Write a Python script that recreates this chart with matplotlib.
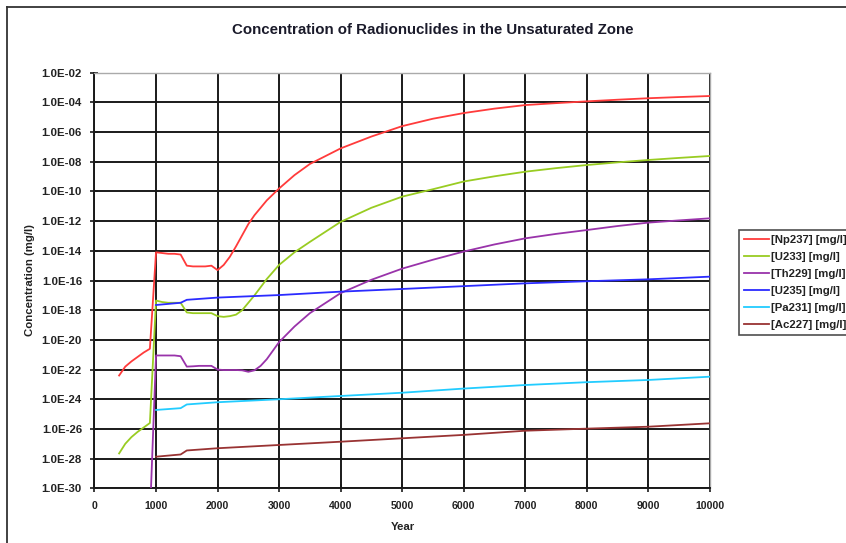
import numpy as np
import matplotlib
matplotlib.use("Agg")
import matplotlib.pyplot as plt
from matplotlib.lines import Line2D
from matplotlib.ticker import FixedLocator, NullLocator, FuncFormatter

plt.rcParams['font.family'] = ['Liberation Sans', 'DejaVu Sans']

# years and log10 of concentration (mg/l) for each nuclide
np237_years = [400, 500, 600, 700, 800, 900, 1000, 1100, 1200, 1300, 1400, 1500, 1600,
               1700, 1800, 1900, 2000, 2100, 2200, 2300, 2400, 2500, 2600, 2800, 3000,
               3250, 3500, 4000, 4500, 5000, 5500, 6000, 6500, 7000, 7500, 8000, 8500,
               9000, 9500, 10000]
np237_log = [-22.4, -21.8, -21.45, -21.15, -20.85, -20.6, -14.1, -14.15, -14.2, -14.2,
             -14.25, -15.0, -15.05, -15.05, -15.05, -15.0, -15.3, -14.95, -14.4, -13.7,
             -12.95, -12.2, -11.6, -10.6, -9.8, -8.9, -8.15, -7.1, -6.3, -5.6, -5.1,
             -4.72, -4.42, -4.18, -4.05, -3.93, -3.82, -3.72, -3.64, -3.57]

u233_years = np237_years
u233_log = [-27.65, -27.0, -26.55, -26.2, -25.9, -25.6, -17.35, -17.45, -17.5, -17.5,
            -17.5, -18.15, -18.2, -18.2, -18.2, -18.2, -18.4, -18.45, -18.4, -18.3,
            -18.0, -17.5, -17.0, -15.9, -14.95, -14.1, -13.4, -12.05, -11.1, -10.35,
            -9.85, -9.33, -8.98, -8.67, -8.43, -8.22, -8.04, -7.88, -7.74, -7.61]

th229_years = [900, 1000, 1100, 1200, 1300, 1400, 1500, 1600, 1700, 1800, 1900, 2000,
               2100, 2200, 2300, 2400, 2500, 2600, 2700, 2800, 3000, 3250, 3500, 4000,
               4500, 5000, 5500, 6000, 6500, 7000, 7500, 8000, 8500, 9000, 9500, 10000]
th229_log = [-32.0, -21.05, -21.05, -21.05, -21.05, -21.1, -21.8, -21.78, -21.75, -21.75,
             -21.75, -22.0, -22.03, -22.03, -22.03, -22.05, -22.15, -22.05, -21.75, -21.3,
             -20.15, -19.1, -18.2, -16.85, -15.95, -15.2, -14.6, -14.05, -13.57, -13.16,
             -12.86, -12.6, -12.33, -12.1, -11.95, -11.81]

tail_years = [1000, 1400, 1500, 2000, 3000, 4000, 5000, 6000, 7000, 8000, 9000, 10000]
u235_log = [-17.65, -17.5, -17.3, -17.15, -16.98, -16.75, -16.57, -16.38, -16.19,
            -16.05, -15.92, -15.74]
pa231_log = [-24.72, -24.6, -24.35, -24.2, -24.0, -23.78, -23.56, -23.28, -23.04,
             -22.85, -22.7, -22.48]
ac227_log = [-27.87, -27.72, -27.45, -27.3, -27.08, -26.86, -26.63, -26.4, -26.12,
             -25.98, -25.85, -25.62]

series = [
    ("[Np237] [mg/l]", np237_years, np237_log, "#ff3b3b"),
    ("[U233] [mg/l]", u233_years, u233_log, "#99cc22"),
    ("[Th229] [mg/l]", th229_years, th229_log, "#9933aa"),
    ("[U235] [mg/l]", tail_years, u235_log, "#2b2bff"),
    ("[Pa231] [mg/l]", tail_years, pa231_log, "#22ccff"),
    ("[Ac227] [mg/l]", tail_years, ac227_log, "#993333"),
]

fig = plt.figure(figsize=(8.46, 5.43), dpi=100)
ax = fig.add_axes([0.1117, 0.1007, 0.7273, 0.7654])

for label, yrs, logs, color in series:
    ax.plot(yrs, 10.0 ** np.array(logs), color=color, lw=1.3, label=label, zorder=3)

ax.set_yscale('log')
ax.set_xlim(0, 10000)
ax.set_ylim(1e-30, 1e-2)
ax.set_xticks(range(0, 10001, 1000))
ax.yaxis.set_major_locator(FixedLocator(10.0 ** np.arange(-30, -1, 2)))
ax.yaxis.set_minor_locator(NullLocator())
ax.yaxis.set_major_formatter(FuncFormatter(lambda v, p: "1.0E-%02d" % round(-np.log10(v))))

ax.grid(True, color='#1a1a1a', lw=1.4, zorder=1)
ax.tick_params(axis='both', direction='inout', length=6, width=1.2, color='#1a1a1a',
               labelcolor='#222222')
ax.tick_params(axis='y', pad=6, labelsize=8.2)
ax.tick_params(axis='x', pad=6, labelsize=7.6)
for lbl in ax.get_xticklabels() + ax.get_yticklabels():
    lbl.set_fontweight('bold')

for side in ('left', 'bottom'):
    ax.spines[side].set_color('#1a1a1a')
    ax.spines[side].set_linewidth(1.4)
for side in ('top', 'right'):
    ax.spines[side].set_color('#aaaaaa')
    ax.spines[side].set_linewidth(1.0)

fig.text(0.511, 0.945, "Concentration of Radionuclides in the Unsaturated Zone",
         ha='center', va='center', fontsize=10.8, fontweight='bold', color='#1a1a2a')
fig.text(0.476, 0.029, "Year", ha='center', va='center', fontsize=8.2,
         fontweight='bold', color='#222222')
fig.text(0.036, 0.484, "Concentration (mg/l)", ha='center', va='center', fontsize=8.2,
         fontweight='bold', color='#222222', rotation=90)

leg = ax.legend(loc='upper left', bbox_to_anchor=(738.5 / 846, 1 - 229.5 / 543),
                bbox_transform=fig.transFigure, fontsize=8.2, frameon=True,
                fancybox=False, edgecolor='#222222', handlelength=2.2,
                handletextpad=0.2, labelspacing=0.62, borderpad=0.45,
                borderaxespad=0)
leg.get_frame().set_linewidth(1.2)
for txt in leg.get_texts():
    txt.set_fontweight('bold')
    txt.set_color('#222222')

# outer chart border
fig.add_artist(Line2D([7 / 846, 7 / 846], [0, 1 - 6.5 / 543], color='#333333', lw=1.3))
fig.add_artist(Line2D([7 / 846, 1], [1 - 6.5 / 543, 1 - 6.5 / 543], color='#333333', lw=1.3))

fig.savefig("out.png", dpi=100)
